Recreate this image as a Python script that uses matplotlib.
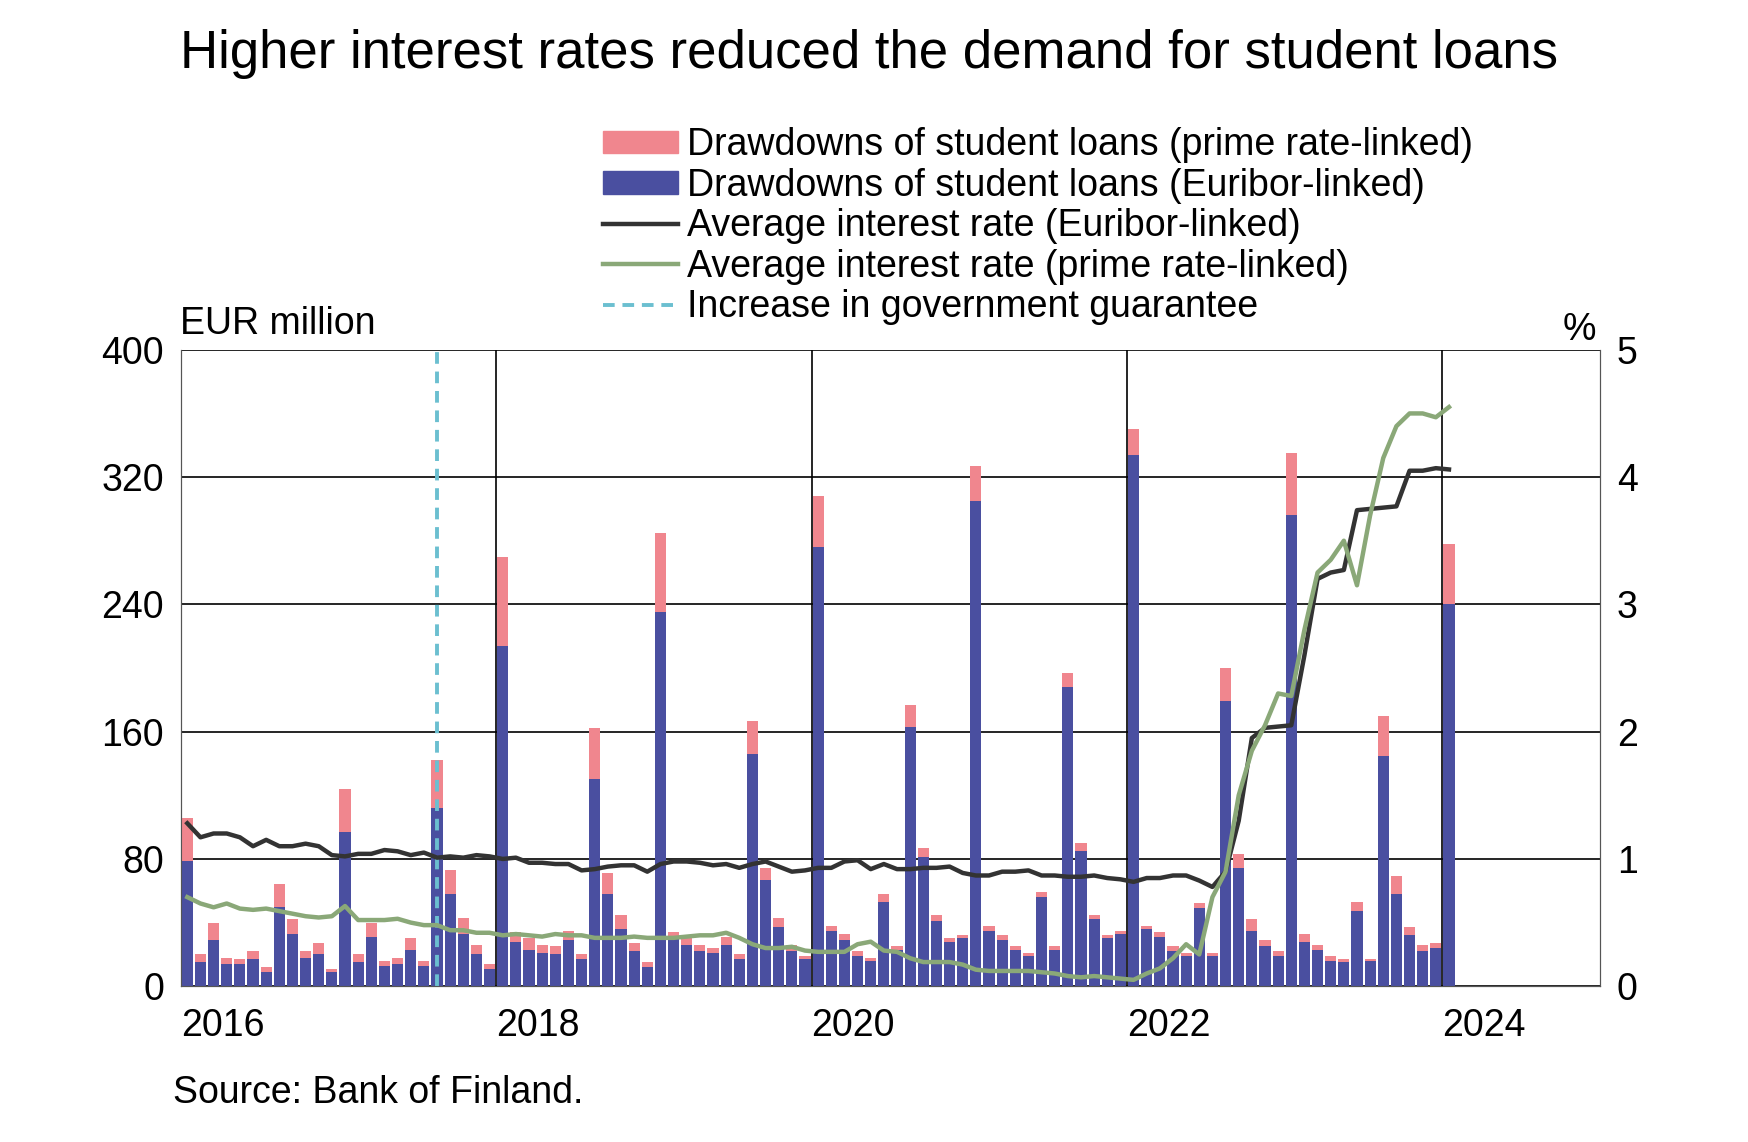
import matplotlib
matplotlib.use("Agg")
import matplotlib.pyplot as plt
import numpy as np
import pandas as pd
from matplotlib.lines import Line2D
from matplotlib.patches import Patch

plt.rcParams["font.family"] = "Liberation Sans"

months = pd.date_range("2016-01-01", "2024-01-01", freq="MS")
total = [106,20,40,18,17,22,12,64,42,22,27,11,
         124,20,40,16,18,30,16,142,73,43,26,14,
         270,34,30,26,25,35,20,162,71,45,27,15,
         285,34,31,26,24,31,20,167,74,43,26,19,
         308,38,33,22,18,58,25,177,87,45,30,32,
         327,38,32,25,21,59,25,197,90,45,32,35,
         350,38,34,25,21,52,21,200,83,42,29,22,
         335,33,26,19,17,53,17,170,69,37,26,27,
         278]
euribor = [79,15,29,14,14,17,9,50,33,18,20,9,
           97,15,31,13,14,23,13,112,58,33,20,11,
           214,28,23,21,20,29,17,130,58,36,22,12,
           235,30,26,22,21,26,17,146,67,37,22,17,
           276,35,29,19,16,53,23,163,81,41,28,30,
           305,35,29,23,19,56,23,188,85,42,30,33,
           334,36,31,22,19,49,19,179,74,35,25,19,
           296,28,23,16,15,47,16,145,58,32,22,24,
           240]
prime = [t - e for t, e in zip(total, euribor)]
rate_euribor = [1.28,1.17,1.20,1.20,1.17,1.10,1.15,1.10,1.10,1.12,1.10,1.03,
                1.02,1.04,1.04,1.07,1.06,1.03,1.05,1.01,1.02,1.01,1.03,1.02,
                1.00,1.01,0.97,0.97,0.96,0.96,0.91,0.92,0.94,0.95,0.95,0.90,
                0.96,0.98,0.98,0.97,0.95,0.96,0.93,0.96,0.98,0.94,0.90,0.91,
                0.93,0.93,0.98,0.99,0.92,0.96,0.92,0.92,0.93,0.93,0.94,0.89,
                0.87,0.87,0.90,0.90,0.91,0.87,0.87,0.86,0.86,0.87,0.85,0.84,
                0.82,0.85,0.85,0.87,0.87,0.83,0.78,0.90,1.30,1.95,2.03,2.04,
                2.05,2.60,3.20,3.25,3.27,3.74,3.75,3.76,3.77,4.05,4.05,4.07,
                4.06]
rate_prime = [0.70,0.65,0.62,0.65,0.61,0.60,0.61,0.59,0.57,0.55,0.54,0.55,
              0.63,0.52,0.52,0.52,0.53,0.50,0.48,0.48,0.44,0.44,0.42,0.42,
              0.40,0.41,0.40,0.39,0.41,0.40,0.40,0.38,0.38,0.38,0.39,0.38,
              0.38,0.38,0.39,0.40,0.40,0.42,0.38,0.33,0.30,0.30,0.31,0.28,
              0.27,0.27,0.27,0.33,0.35,0.28,0.27,0.22,0.19,0.19,0.19,0.17,
              0.13,0.12,0.12,0.12,0.12,0.11,0.10,0.08,0.07,0.08,0.07,0.06,
              0.05,0.10,0.14,0.22,0.33,0.25,0.70,0.90,1.50,1.85,2.05,2.30,
              2.28,2.80,3.25,3.35,3.50,3.15,3.70,4.15,4.40,4.50,4.50,4.47,
              4.55]
guarantee_date = "2017-08-01"
year_labels = [2016, 2018, 2020, 2022, 2024]

NAVY = "#4a4fa0"
PINK = "#f0868e"
GREEN = "#8aa878"
DARK = "#333333"
CYAN = "#6bbfd0"

fig = plt.figure(figsize=(17.48, 11.42), dpi=100)
ax = fig.add_axes([0.1034, 0.1364, 0.8120, 0.5573])
ax2 = ax.twinx()

x = np.arange(len(months)) + 0.5
ax.bar(x, euribor, width=0.85, color=NAVY, zorder=3)
ax.bar(x, prime, bottom=euribor, width=0.85, color=PINK, zorder=3)
ax.set_xlim(0, 108)
ax.set_ylim(0, 400)
ax.set_yticks([0, 80, 160, 240, 320, 400])
ax.yaxis.grid(True, color="black", lw=1.2, zorder=0)
for yr in [2018, 2020, 2022, 2024]:
    ax.axvline((yr - 2016) * 12, color="black", lw=1.2, zorder=1)
ts = pd.Timestamp(guarantee_date)
gi = (ts.year - 2016) * 12 + ts.month - 1 + 0.5
ax.axvline(gi, color=CYAN, lw=2.8, ls=(0, (3, 2)), zorder=4)

ax2.plot(x, rate_euribor, color=DARK, lw=3.2, zorder=5)
ax2.plot(x, rate_prime, color=GREEN, lw=3.2, zorder=5)
ax2.set_ylim(0, 5)
ax2.set_yticks([0, 1, 2, 3, 4, 5])

ax.set_xticks([(y - 2016) * 12 for y in year_labels])
ax.set_xticklabels([str(y) for y in year_labels], ha="left")
for a in (ax, ax2):
    a.tick_params(length=0, labelsize=27, pad=12)
    a.spines["top"].set_visible(False)
    for s in ("left", "right", "bottom"):
        a.spines[s].set_color("#555555")
ax.tick_params(axis="x", pad=16)
ax2.patch.set_visible(False)

fig.text(0.497, 0.953, "Higher interest rates reduced the demand for student loans",
         ha="center", va="center", fontsize=38)
fig.text(0.103, 0.716, "EUR million", ha="left", va="center", fontsize=27)
fig.text(0.913, 0.711, "%", ha="right", va="center", fontsize=27)
fig.text(0.099, 0.043, "Source: Bank of Finland.", ha="left", va="center", fontsize=27)

handles = [Patch(color=PINK), Patch(color=NAVY),
           Line2D([], [], color=DARK, lw=3.2), Line2D([], [], color=GREEN, lw=3.2),
           Line2D([], [], color=CYAN, lw=2.8, ls=(0, (3, 2)))]
labels = ["Drawdowns of student loans (prime rate-linked)",
          "Drawdowns of student loans (Euribor-linked)",
          "Average interest rate (Euribor-linked)",
          "Average interest rate (prime rate-linked)",
          "Increase in government guarantee"]
fig.legend(handles, labels, loc="upper left", bbox_to_anchor=(0.334, 0.905),
           frameon=False, fontsize=27, handlelength=2.0, handleheight=0.55,
           labelspacing=0.12, handletextpad=0.25, borderpad=0)

fig.savefig("out.png", dpi=100)
